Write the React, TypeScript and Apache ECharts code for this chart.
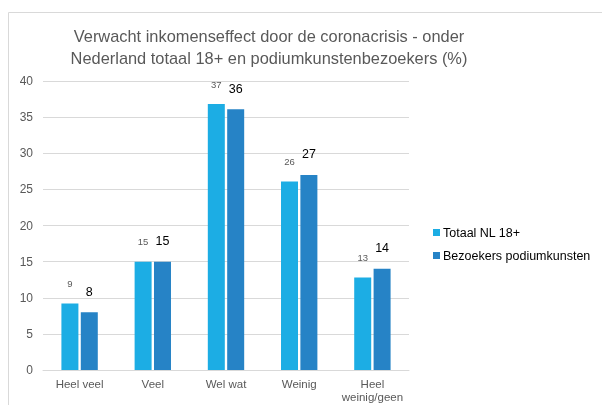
import React, { useEffect, useRef } from "react";
import * as echarts from "echarts";

const titleLines = [
  "Verwacht inkomenseffect door de coronacrisis - onder",
  "Nederland totaal 18+ en podiumkunstenbezoekers (%)",
];
const categories = ["Heel veel", "Veel", "Wel wat", "Weinig", "Heel\nweinig/geen"];
const seriesNames = ["Totaal NL 18+", "Bezoekers podiumkunsten"];
const totaalValues = [9.2, 15, 36.8, 26.1, 12.8];
const bezoekersValues = [8, 15, 36.1, 27, 14];
const totaalLabels = ["9", "15", "37", "26", "13"];
const bezoekersLabels = ["8", "15", "36", "27", "14"];

export default function App() {
  const ref = useRef<HTMLDivElement>(null);
  useEffect(() => {
    if (!ref.current) return;
    const chart = echarts.init(ref.current, undefined, { renderer: "svg" });
    const font = "Liberation Sans, Arial, sans-serif";
    chart.setOption({
      animation: false,
      textStyle: { fontFamily: font },
      graphic: [
        {
          type: "rect",
          shape: { x: 8.5, y: 12.5, width: 620, height: 420 },
          style: { fill: "none", stroke: "#d9d9d9", lineWidth: 1 },
          silent: true,
        },
        {
          type: "text",
          x: 269,
          y: 25,
          style: {
            text: titleLines.join("\n"),
            fontFamily: font,
            fontSize: 16.4,
            lineHeight: 22,
            fill: "#595959",
            align: "center",
            verticalAlign: "top",
          },
        },
      ],
      legend: {
        orient: "vertical",
        left: 428,
        top: 221,
        itemWidth: 7,
        itemHeight: 7,
        itemGap: 10,
        icon: "rect",
        textStyle: { fontSize: 12.5, color: "#000", fontFamily: font, padding: [0, 0, 0, -2] },
        data: seriesNames,
      },
      grid: { left: 43, right: 193, top: 81, bottom: 35 },
      xAxis: {
        type: "category",
        data: categories,
        axisLine: { lineStyle: { color: "#d9d9d9" } },
        axisTick: { show: false },
        axisLabel: { color: "#595959", fontSize: 11.5, margin: 7, lineHeight: 13, interval: 0 },
      },
      yAxis: {
        type: "value",
        min: 0,
        max: 40,
        interval: 5,
        axisLine: { show: false },
        axisTick: { show: false },
        axisLabel: { color: "#595959", fontSize: 12, margin: 10 },
        splitLine: { lineStyle: { color: "#d9d9d9" } },
      },
      series: [
        {
          name: seriesNames[0],
          type: "bar",
          data: totaalValues,
          barWidth: 17,
          barGap: "14%",
          itemStyle: { color: "#1CADE4" },
          label: {
            show: true,
            position: "top",
            distance: 15,
            fontSize: 9.5,
            color: "#595959",
            formatter: (p: any) => totaalLabels[p.dataIndex],
          },
        },
        {
          name: seriesNames[1],
          type: "bar",
          data: bezoekersValues,
          barWidth: 17,
          barGap: "14%",
          itemStyle: { color: "#2683C6" },
          label: {
            show: true,
            position: "top",
            distance: 14,
            fontSize: 12.5,
            color: "#000",
            formatter: (p: any) => bezoekersLabels[p.dataIndex],
          },
        },
      ],
    });
    return () => chart.dispose();
  }, []);
  return <div ref={ref} style={{ width: 602, height: 405, position: "fixed", left: 0, top: 0 }} />;
}
